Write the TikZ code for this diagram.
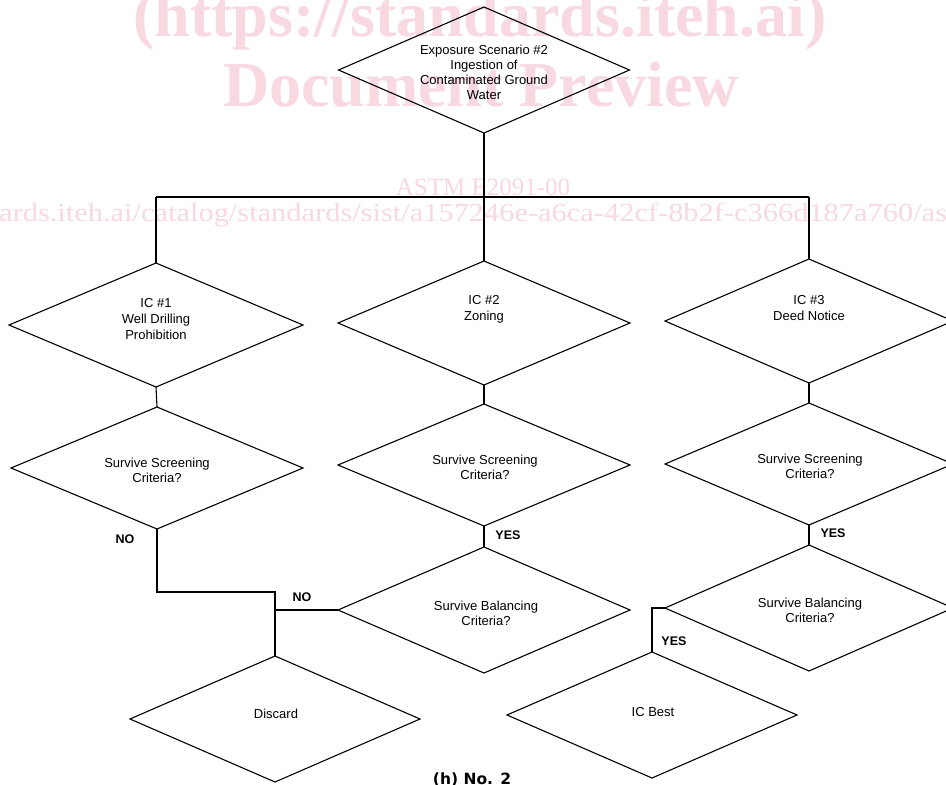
\documentclass[tikz,border=0pt]{standalone}
\usepackage{fontspec}
\setmainfont{Liberation Sans}
\newfontfamily\wmfont{Liberation Serif}
\newfontfamily\capfont{DejaVu Sans}
\usetikzlibrary{shapes.geometric}
\definecolor{wmpink}{RGB}{248,216,225}

\begin{document}
\begin{tikzpicture}[x=1pt,y=-1pt,
  dia/.style={diamond, draw=black, line width=1.1pt, inner sep=0pt, outer sep=0pt},
  lft/.style={dia, minimum width=292pt},
  rgt/.style={dia, minimum width=288pt},
  txt/.style={align=center, inner sep=0pt, font=\fontsize{13}{15}\selectfont},
  ictxt/.style={txt, font=\fontsize{13}{16}\selectfont},
  lbl/.style={inner sep=0pt, font=\fontsize{12.5}{14}\selectfont\bfseries},
  wire/.style={draw=black, line width=1.1pt},
  wm/.style={inner sep=0pt, text=wmpink, font=\wmfont}]

\useasboundingbox (0,0) rectangle (946,785);
\clip (0,0) rectangle (946,785);
\fill[white] (0,0) rectangle (946,785);

% preview watermark, set behind the chart
\node[wm, anchor=base, font=\wmfont\fontsize{64}{64}\selectfont\bfseries] (wm1) at (480,36) {(https://standards.iteh.ai)};
\node[wm, anchor=base, font=\wmfont\fontsize{64}{64}\selectfont\bfseries] (wm2) at (481,106) {Document Preview};
\node[wm, anchor=base, font=\wmfont\fontsize{25}{25}\selectfont] (wm3) at (483,195) {ASTM E2091-00};
\node[wm, anchor=base west, font=\wmfont\fontsize{26}{26}\selectfont] (wm4) at (-1,221) {\scalebox{1.17}[1]{ards.iteh.ai/catalog/standards/sist/a157246e-a6ca-42cf-8b2f-c366d187a760/as}};

% decision diamonds
\node[dia, minimum width=291pt, minimum height=126pt] (top) at (484,70) {};
\node[dia, minimum width=294pt, minimum height=124pt] (ic1) at (156,325) {};
\node[lft, minimum height=124pt] (ic2) at (484,323) {};
\node[rgt, minimum height=124pt] (ic3) at (809,321) {};
\node[lft, minimum height=122pt] (ss1) at (157,468) {};
\node[lft, minimum height=122pt] (ss2) at (484,465) {};
\node[rgt, minimum height=122pt] (ss3) at (809,464) {};
\node[lft, minimum height=126pt] (sb2) at (484,610) {};
\node[rgt, minimum height=126pt] (sb3) at (809,608) {};
\node[dia, minimum width=290pt, minimum height=126pt] (discard) at (275,719) {};
\node[dia, minimum width=290pt, minimum height=126pt] (best) at (652,715) {};

% texts inside the diamonds
\node[txt] (ttop) at (484,72.5) {Exposure Scenario \#2\\Ingestion of\\Contaminated Ground\\Water};
\node[ictxt] (tic1) at (156,319) {IC \#1\\Well Drilling\\Prohibition};
\node[ictxt] (tic2) at (484,309) {IC \#2\\Zoning};
\node[ictxt] (tic3) at (809,308) {IC \#3\\Deed Notice};
\node[txt] (tss1) at (157,470) {Survive Screening\\Criteria?};
\node[txt] (tss2) at (485,467) {Survive Screening\\Criteria?};
\node[txt] (tss3) at (810,466) {Survive Screening\\Criteria?};
\node[txt] (tsb2) at (486,613) {Survive Balancing\\Criteria?};
\node[txt] (tsb3) at (810,610) {Survive Balancing\\Criteria?};
\node[txt] (tdis) at (276,714) {Discard};
\node[txt] (tbest) at (653,712) {IC Best};

% branching bus below the scenario
\coordinate (busL) at (156,197);
\coordinate (busR) at (809,197);
\coordinate (j1) at (275,592);

\draw[wire] (top.south) -- (ic2.north);
\draw[wire] (busL) -- (busR);
\draw[wire] (busL) -- (ic1.north);
\draw[wire] (busR) -- (ic3.north);
\draw[wire] (ic1.south) -- (ss1.north);
\draw[wire] (ic2.south) -- (ss2.north);
\draw[wire] (ic3.south) -- (ss3.north);
\draw[wire] (ss2.south) -- (sb2.north);
\draw[wire] (ss3.south) -- (sb3.north);
\draw[wire] (ss1.south) |- (j1) -- (discard.north);
\draw[wire] (sb2.west) -- (sb2.west -| discard.north);
\draw[wire] (sb3.west) -| (best.north);

% branch labels
\node[lbl] (no1) at (125,539) {NO};
\node[lbl] (no2) at (302,597) {NO};
\node[lbl] (yes1) at (508,535) {YES};
\node[lbl] (yes2) at (833,533) {YES};
\node[lbl] (yes3) at (674,641) {YES};

\node[inner sep=0pt, anchor=base, font=\capfont\fontsize{15.5}{16}\selectfont\bfseries] (cap) at (472,784) {(h) No. 2};
\end{tikzpicture}
\end{document}
